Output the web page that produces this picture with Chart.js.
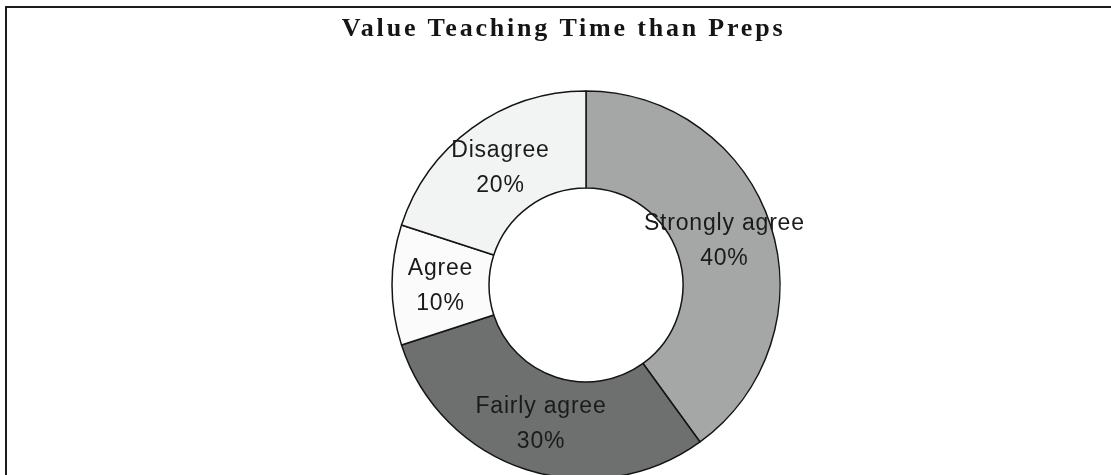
<!DOCTYPE html>
<html>
<head>
<meta charset="utf-8">
<title>Value Teaching Time than Preps</title>
<script src="https://cdn.jsdelivr.net/npm/chart.js@4.4.1/dist/chart.umd.min.js"></script>
<style>
  html, body { margin: 0; padding: 0; background: #fff; overflow: hidden; }
  #wrap { position: relative; width: 1111px; height: 475px; overflow: hidden; }
  #frame {
    position: absolute; left: 5px; top: 6px; width: 1200px; height: 600px;
    border-top: 2px solid #1c1c1c; border-left: 2px solid #1c1c1c;
  }
  #surveyChart { position: absolute; left: 0; top: 0; }
</style>
</head>
<body>
<div id="wrap">
  <div id="frame"></div>
  <canvas id="surveyChart" width="1111" height="560"></canvas>
</div>
<script>
var answers = ["Strongly agree", "Fairly agree", "Agree", "Disagree"];
var shares = [40, 30, 10, 20];
var sliceColors = ["#a5a7a7", "#6e7070", "#fbfbfb", "#f2f3f3"];

// writes "label / xx%" in the middle of each ring slice
var sliceLabels = {
  id: "sliceLabels",
  beforeDraw: function (chart) {
    chart.ctx.letterSpacing = "2.8px";
  },
  beforeDatasetsDraw: function (chart) {
    chart.ctx.letterSpacing = "0px";
  },
  afterLayout: function (chart) {
    // title sits a little left of the ring centre in the original
    chart.titleBlock.left = 16;
  },
  afterDatasetsDraw: function (chart) {
    var ctx = chart.ctx;
    var meta = chart.getDatasetMeta(0);
    var total = shares.reduce(function (a, b) { return a + b; }, 0);
    ctx.save();
    ctx.letterSpacing = "0.8px";
    ctx.font = "23px 'Liberation Sans', Arial, sans-serif";
    ctx.fillStyle = "#1a1a1a";
    ctx.textAlign = "center";
    ctx.textBaseline = "alphabetic";
    meta.data.forEach(function (arc, i) {
      var p = arc.tooltipPosition();
      var pct = Math.round(shares[i] / total * 100) + "%";
      ctx.fillText(answers[i], p.x, p.y - 10);
      ctx.fillText(pct, p.x, p.y + 25);
    });
    ctx.restore();
  }
};

new Chart(document.getElementById("surveyChart"), {
  type: "doughnut",
  data: {
    labels: answers,
    datasets: [
      {
        data: shares,
        backgroundColor: sliceColors,
        borderColor: "#141414",
        borderWidth: 1.5
      }
    ]
  },
  options: {
    responsive: false,
    devicePixelRatio: 1,
    animation: false,
    radius: 194,
    cutout: "50%",
    layout: {
      padding: { left: 61, right: 0, top: 0, bottom: 43.6 }
    },
    plugins: {
      legend: { display: false },
      tooltip: { enabled: false },
      title: {
        display: true,
        text: "Value Teaching Time than Preps",
        color: "#151515",
        font: { family: "'Liberation Serif', 'Times New Roman', serif", size: 26, weight: "bold" },
        padding: { top: 14, bottom: 8.4 }
      }
    }
  },
  plugins: [sliceLabels]
});
</script>
</body>
</html>
